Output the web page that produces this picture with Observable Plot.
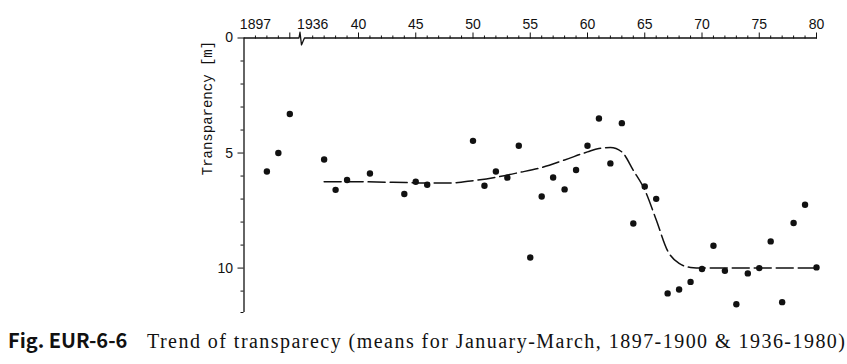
<!DOCTYPE html>
<html><head><meta charset="utf-8">
<script src="https://cdn.jsdelivr.net/npm/d3@7"></script>
<script src="https://cdn.jsdelivr.net/npm/@observablehq/plot@0.6"></script>
<style>
html,body{margin:0;padding:0;background:#fff;}
#wrap{position:relative;width:847px;height:364px;overflow:hidden;background:#fff;}
#chart svg{display:block;}
#fig{position:absolute;left:8px;top:330px;font-family:"Noto Sans CJK JP","Noto Sans",sans-serif;font-weight:700;font-size:20px;line-height:20px;white-space:nowrap;color:#111;}
#txt{position:absolute;left:147px;top:331px;font-family:"Liberation Serif",serif;font-size:20px;line-height:20px;white-space:nowrap;color:#111;}
</style></head>
<body>
<div id="wrap">
  <div id="chart"></div>
  <div id="fig">Fig. EUR-6-6</div>
  <div id="txt">Trend of transparecy (means for January-March, 1897-1900 &amp; 1936-1980)</div>
</div>
<script>
// --- data ---
const earlyYears  = [1898, 1899, 1900];
const earlyValues = [5.8, 5.0, 3.3];

const years = [1937,1938,1939,1941,1944,1945,1946,
  1950,1951,1952,1953,1954,1955,1956,1957,1958,1959,
  1960,1961,1962,1963,1964,1965,1966,1967,1968,1969,
  1970,1971,1972,1973,1974,1975,1976,1977,1978,1979,1980];
const values = [5.28,6.6,6.17,5.89,6.78,6.25,6.38,
  4.47,6.42,5.8,6.07,4.68,9.54,6.89,6.06,6.58,5.74,
  4.68,3.5,5.45,3.7,8.06,6.45,6.99,11.1,10.93,10.6,
  10.04,9.03,10.12,11.57,10.23,10.0,8.84,11.48,8.04,7.25,9.97];

const trendYears  = [1937,1940,1943,1946,1948,1950,1952,1954,1956,1958,1960,1961,1962,1963,1964,1965,1966,1967,1968,1969,1970,1975,1980];
const trendValues = [6.25,6.25,6.27,6.3,6.3,6.2,6.05,5.85,5.63,5.3,4.95,4.8,4.76,4.95,5.75,6.6,7.9,9.25,9.8,9.97,10.0,10.0,10.0];

const xTickYears  = [1897, 1936, 1940, 1945, 1950, 1955, 1960, 1965, 1970, 1975, 1980];
const xTickLabels = ["1897","1936","40","45","50","55","60","65","70","75","80"];
const yTickValues = [0, 5, 10];
const yTickLabels = ["0", "5", "10"];

// --- axis break: years before 1930 are shifted next to 1936 ---
const shift = 34;
const pos = y => (y < 1930 ? y + shift : y);
const xMin = 1930, xMax = 1980, yMax = 11.93;

const points = [
  ...earlyYears.map((y, i) => ({x: pos(y), v: earlyValues[i]})),
  ...years.map((y, i) => ({x: pos(y), v: values[i]}))
];
const trend = trendYears.map((y, i) => ({x: y, v: trendValues[i]}));

const majorX = [pos(1900), ...d3.range(1940, 1981, 5)];
const minorX = [...d3.range(1897, 1900).map(pos), ...d3.range(1936, 1980).filter(d => d % 5 !== 0)];
const minorY = [...d3.range(1, 12).filter(d => d % 5 !== 0), yMax];

// top frame line with break zig-zag (in data units)
const breakAt = (pos(1900) + 1936) / 2;
const topFrame = [
  {x: xMin, v: 0}, {x: breakAt - 0.2, v: 0}, {x: breakAt - 0.11, v: -0.25},
  {x: breakAt + 0.02, v: 0.3}, {x: breakAt + 0.28, v: 0}, {x: xMax, v: 0}
];

const labelMap = new Map(xTickYears.map((y, i) => [pos(y), xTickLabels[i]]));
const yLabelMap = new Map(yTickValues.map((v, i) => [v, yTickLabels[i]]));

const chart = Plot.plot({
  width: 847, height: 322,
  marginTop: 37.5, marginBottom: 10, marginLeft: 243.5, marginRight: 31,
  style: {fontFamily: "Liberation Sans, Arial, sans-serif", fontSize: "14px", color: "#111", background: "#fff"},
  x: {domain: [xMin, xMax], label: null},
  y: {domain: [0, yMax], reverse: true, label: null},
  marks: [
    Plot.axisX(minorX, {anchor: "top", tickSize: 3, tickFormat: () => "", label: null, strokeWidth: 1}),
    Plot.axisX(majorX, {anchor: "top", tickSize: 6, tickFormat: () => "", label: null, strokeWidth: 1}),
    Plot.axisX(xTickYears.map(pos), {anchor: "top", tickSize: 0, tickPadding: 9, tickFormat: d => labelMap.get(d), label: null, fontSize: 14}),
    Plot.axisY(minorY, {anchor: "left", tickSize: 3, tickFormat: () => "", label: null, strokeWidth: 1}),
    Plot.axisY(yTickValues, {anchor: "left", tickSize: 6, tickPadding: 5, tickFormat: d => yLabelMap.get(d), label: null, fontSize: 14}),
    Plot.line(topFrame, {x: "x", y: "v", stroke: "#111", strokeWidth: 1.3}),
    Plot.ruleX([xMin], {y1: 0, y2: yMax, stroke: "#111", strokeWidth: 1.3}),
    Plot.line(trend, {x: "x", y: "v", curve: "monotone-x", stroke: "#111", strokeWidth: 1.5, strokeDasharray: "17,5"}),
    Plot.dot(points, {x: "x", y: "v", r: 3.2, fill: "#111", stroke: "none"}),
    Plot.text(["Transparency [m]"], {frameAnchor: "left", dx: -36.5, rotate: -90, fontFamily: "Liberation Mono, monospace", fontSize: 14, fill: "#111"})
  ]
});
document.getElementById("chart").appendChild(chart);

// stretch the caption text to the reference width
const txt = document.getElementById("txt");
const w = txt.getBoundingClientRect().width;
const n = txt.textContent.length;
txt.style.letterSpacing = ((698 - w) / (n - 1)) + "px";
</script>
</body></html>
